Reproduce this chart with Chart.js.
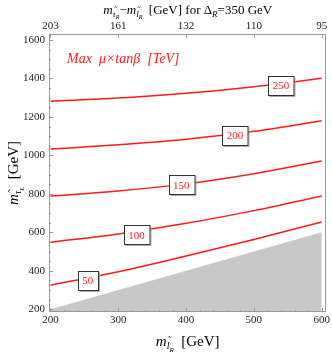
<!DOCTYPE html>
<html>
<head>
<meta charset="utf-8">
<script src="https://cdn.jsdelivr.net/npm/chart.js@4.4.1/dist/chart.umd.min.js"></script>
<style>
  html, body { margin: 0; padding: 0; background: #fff; }
  #wrap { width: 332px; height: 357px; }
</style>
</head>
<body>
<div id="wrap"><canvas id="contourChart"></canvas></div>
<script>
// axis ranges and ticks
const xMin = 197.8, xMax = 607;
const yMin = 186, yMax = 1631;
const xTicks = [200, 300, 400, 500, 600];
const topTickLabels = ['203', '161', '132', '110', '95'];
const yTicks = [200, 400, 600, 800, 1000, 1200, 1400, 1600];

// contour lines of max mu*tan(beta) [TeV], sampled at these m_lR values
const contourX = [200, 300, 400, 500, 600];
const level50 = [325, 395, 477, 563, 654];
const level100 = [548, 592, 647, 713, 789];
const level150 = [789, 815, 852, 905, 971];
const level200 = [1033, 1055, 1084, 1125, 1180];
const level250 = [1281, 1298, 1323, 1357, 1401];

// contour label boxes
const contourLevels = ['50', '100', '150', '200', '250'];
const labelX = [255, 327, 393, 472, 540];
const labelY = [350, 588, 848, 1104, 1364];

// excluded region: m_tauL below m_lR
const shadedX = [xMin, 600];
const shadedY = [xMin, 600];

const RED = '#ff1a1a';
const SERIF = '"Liberation Serif", "DejaVu Serif", serif';

function toPoints(xs, ys) {
    return xs.map((x, i) => ({ x: x, y: ys[i] }));
}

function contourSet(values) {
    return {
        data: toPoints(contourX, values),
        borderColor: RED,
        borderWidth: 1.5,
        pointRadius: 0,
        cubicInterpolationMode: 'monotone',
        fill: false
    };
}

// draw a run of text pieces (italic letters, subscripts, tildes)
function drawParts(ctx, parts, x, y) {
    let total = 0;
    parts.forEach(p => {
        ctx.font = p.font;
        p.w = ctx.measureText(p.t).width;
        total += p.w + (p.gap || 0);
    });
    let cx = x - total / 2;
    ctx.textAlign = 'left';
    ctx.textBaseline = 'alphabetic';
    parts.forEach(p => {
        ctx.font = p.font;
        ctx.fillText(p.t, cx, y + (p.dy || 0));
        if (p.tilde) {
            const tw = ctx.measureText('\u02DC').width;
            ctx.fillText('\u02DC', cx + p.w / 2 - tw / 2 + 1, y + (p.dy || 0) - p.size * 0.5);
        }
        cx += p.w + (p.gap || 0);
    });
}

function massParts(size, letter, idx) {
    const sub = Math.round(size * 0.66), sub2 = Math.round(size * 0.48);
    return [
        { t: 'm', font: 'italic ' + size + 'px ' + SERIF, size: size },
        { t: letter, font: 'italic ' + sub + 'px ' + SERIF, size: sub, dy: size * 0.22, tilde: true },
        { t: idx, font: 'italic ' + sub2 + 'px ' + SERIF, size: sub2, dy: size * 0.42 }
    ];
}

const framePlugin = {
    id: 'framePlugin',
    afterDatasetsDraw(chart) {
        const ctx = chart.ctx;
        const a = chart.chartArea;
        const xs = chart.scales.x, ys = chart.scales.y;
        ctx.save();

        // contour labels
        ctx.font = '11px ' + SERIF;
        contourLevels.forEach((lab, i) => {
            const px = xs.getPixelForValue(labelX[i]);
            const py = ys.getPixelForValue(labelY[i]);
            const w = ctx.measureText(lab).width + 9;
            const h = 19;
            const l = Math.round(px - w / 2) + 0.5, t = Math.round(py - h / 2) + 0.5;
            ctx.fillStyle = '#fff';
            ctx.fillRect(l, t, w, h);
            ctx.strokeStyle = '#aaa';
            ctx.lineWidth = 1;
            ctx.beginPath();
            ctx.moveTo(l + w + 1, t + 1); ctx.lineTo(l + w + 1, t + h + 1); ctx.lineTo(l + 1, t + h + 1);
            ctx.stroke();
            ctx.strokeStyle = '#333';
            ctx.strokeRect(l, t, w, h);
            ctx.fillStyle = RED;
            ctx.textAlign = 'center';
            ctx.textBaseline = 'middle';
            ctx.fillText(lab, px, py + 1);
        });

        // frame
        ctx.strokeStyle = '#9a9a9a';
        ctx.lineWidth = 1;
        ctx.strokeRect(Math.round(a.left) + 0.5, Math.round(a.top) + 0.5,
            Math.round(a.right - a.left) - 1, Math.round(a.bottom - a.top) - 1);

        // inward ticks
        ctx.beginPath();
        for (let v = 200; v <= 600; v += 20) {
            const px = Math.round(xs.getPixelForValue(v)) + 0.5;
            const len = v % 100 === 0 ? 4 : 2;
            ctx.moveTo(px, a.bottom); ctx.lineTo(px, a.bottom - len);
            if (v % 100 === 0) { ctx.moveTo(px, a.top); ctx.lineTo(px, a.top + 4); }
        }
        for (let v = 200; v <= 1600; v += 50) {
            const py = Math.round(ys.getPixelForValue(v)) + 0.5;
            const len = v % 200 === 0 ? 4 : 2;
            ctx.moveTo(a.left, py); ctx.lineTo(a.left + len, py);
        }
        ctx.stroke();

        // annotation
        ctx.fillStyle = RED;
        ctx.font = 'italic 14px ' + SERIF;
        ctx.textAlign = 'left';
        ctx.textBaseline = 'middle';
        ctx.fillText('Max  \u03BC\u00D7tan\u03B2  [TeV]', a.left + 18, 59);

        // axis titles
        ctx.fillStyle = '#000';
        drawParts(ctx, massParts(15, 'l', 'R').concat([
            { t: '  [GeV]', font: '15px ' + SERIF }
        ]), (a.left + a.right) / 2, 346);

        drawParts(ctx, massParts(13, '\u03C4', 'R').concat(
            [{ t: '\u2212', font: '13px ' + SERIF }],
            massParts(13, 'l', 'R'),
            [{ t: '  [GeV] for \u0394', font: '13px ' + SERIF },
             { t: 'R', font: 'italic 9px ' + SERIF, dy: 3 },
             { t: '=350 GeV', font: '13px ' + SERIF }]
        ), (a.left + a.right) / 2, 14);

        ctx.save();
        ctx.translate(18, (a.top + a.bottom) / 2);
        ctx.rotate(-Math.PI / 2);
        drawParts(ctx, massParts(15, '\u03C4', 'L').concat([
            { t: '  [GeV]', font: '15px ' + SERIF }
        ]), 0, 0);
        ctx.restore();

        ctx.restore();
    }
};

const tickFont = { family: SERIF, size: 11 };

new Chart(document.getElementById('contourChart'), {
    type: 'line',
    data: {
        datasets: [
            {
                data: toPoints(shadedX, shadedY),
                borderWidth: 0,
                pointRadius: 0,
                backgroundColor: '#c8c8c8',
                fill: 'start'
            },
            contourSet(level50),
            contourSet(level100),
            contourSet(level150),
            contourSet(level200),
            contourSet(level250)
        ]
    },
    options: {
        responsive: true,
        maintainAspectRatio: false,
        animation: false,
        layout: { padding: { right: 5 } },
        plugins: {
            legend: { display: false },
            tooltip: { enabled: false }
        },
        scales: {
            x: {
                type: 'linear',
                min: xMin, max: xMax,
                afterBuildTicks: s => { s.ticks = xTicks.map(v => ({ value: v })); },
                afterFit: s => { s.height = 45; },
                grid: { display: false, drawTicks: false },
                border: { display: false },
                ticks: { font: tickFont, color: '#222', padding: 2, maxRotation: 0, callback: v => String(v) }
            },
            x2: {
                type: 'linear',
                position: 'top',
                min: xMin, max: xMax,
                afterBuildTicks: s => { s.ticks = xTicks.map(v => ({ value: v })); },
                afterFit: s => { s.height = 34; },
                grid: { display: false, drawTicks: false },
                border: { display: false },
                ticks: {
                    font: tickFont, color: '#222', padding: 1, maxRotation: 0,
                    callback: (v) => topTickLabels[xTicks.indexOf(v)]
                }
            },
            y: {
                type: 'linear',
                min: yMin, max: yMax,
                afterBuildTicks: s => { s.ticks = yTicks.map(v => ({ value: v })); },
                afterFit: s => { s.width = 49; },
                grid: { display: false, drawTicks: false },
                border: { display: false },
                ticks: { font: tickFont, color: '#222', padding: 4, callback: v => String(v) }
            }
        }
    },
    plugins: [framePlugin]
});
</script>
</body>
</html>
